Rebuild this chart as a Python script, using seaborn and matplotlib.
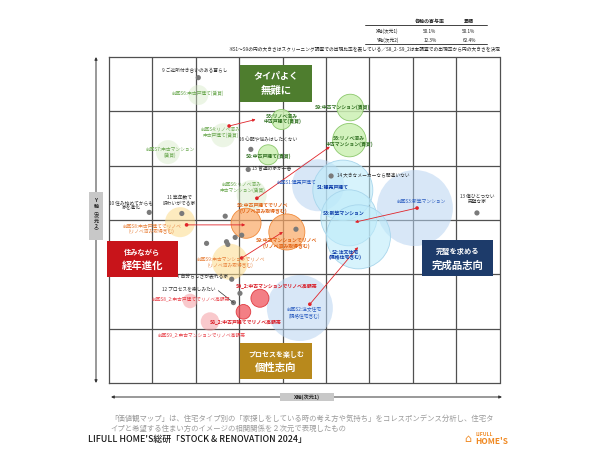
import matplotlib
matplotlib.use("Agg")
import matplotlib.pyplot as plt
import seaborn as sns
import numpy as np
import pandas as pd
from matplotlib.patches import Rectangle

sns.set_theme(style="white")
plt.rcParams['font.family'] = ['Noto Sans CJK JP', 'DejaVu Sans']

# ---------------- data ----------------
# attribute points (grey dots): dimension1, dimension2
attr_x = [-2.44, -1.23, -1.29, 0.62, 3.98, -3.57, -2.82, -1.82, -2.25, -1.79, -1.76,
          -1.59, -1.44, -0.19, -1.67, -1.63, -1.48]
attr_y = [2.62, 1.30, 0.93, 0.81, 0.13, 0.14, 0.12, 0.07, -0.43, -0.40, -0.45,
          -0.32, -0.28, -0.17, -1.09, -1.52, -1.35]

# housing types (circles)
circ_name = ["前回S6", "前回S4", "前回S7", "前回S6b", "S5", "S8g", "S9g", "S6",
             "前回S1", "前回S3", "前回S2", "S1", "S3", "S2",
             "前回S8", "前回S9", "S8", "S9",
             "前回S8_2", "前回S9_2", "S9_2", "S8_2"]
circ_x = [-2.44, -1.87, -3.14, -1.21, -0.52, -0.83, 1.06, 1.04,
          0.32, 2.55, -0.10, 0.89, 1.03, 1.25,
          -2.86, -1.71, -1.34, -0.40,
          -2.63, -2.17, -1.02, -1.40]
circ_y = [2.30, 1.56, 1.25, 0.46, 1.85, 1.20, 2.07, 1.47,
          0.64, 0.22, -1.62, 0.55, 0.04, -0.31,
          -0.04, -0.77, -0.06, -0.22,
          -1.49, -1.87, -1.44, -1.69]
circ_size = [10, 12, 12, 15, 10, 10, 13.3, 16.7,
             26, 38, 33, 30, 28, 32,
             15, 18, 15, 18,
             7.3, 9.3, 9, 7.3]
circ_group = ["green"] * 8 + ["blue"] * 6 + ["orange"] * 4 + ["red"] * 4
circ_prev = [True, True, True, True, False, False, False, False,
             True, True, True, False, False, False,
             True, True, False, False,
             True, True, False, False]

# movement arrows (previous survey -> this survey)
arr_x0 = [-1.73, -1.09, 2.60, 0.13, -2.71, -1.44]
arr_y0 = [1.73, 0.40, 0.22, -1.55, -0.09, -0.70]
arr_x1 = [-1.12, 0.59, 1.17, 1.24, -1.36, -0.49]
arr_y1 = [1.85, 1.35, -0.04, -0.50, -0.09, -0.22]

# labels
lab_text = [
    "9 ご近所付き合いのある暮らし", "前回S6:中古戸建て(賃貸)", "前回S4:リノベ済み\n中古戸建て(賃貸)",
    "前回S7:中古マンション\n(賃貸)", "S5:リノベ済み\n中古戸建て(賃貸)", "16 心配や悩みはしたくない",
    "S8:中古戸建て(賃貸)", "15 普通の家が一番", "S9:中古マンション(賃貸)",
    "S6:リノベ済み\n中古マンション(賃貸)", "前回S6:リノベ済み\n中古マンション(賃貸)",
    "前回S1:建売戸建て", "S1:建売戸建て", "14 大きなメーカーなら間違いない",
    "S3:新築マンション", "前回S3:新築マンション", "S2:注文住宅\n(規格住宅含む)",
    "前回S2:注文住宅\n(規格住宅含む)", "13 傷ひとつない\n完璧な家", "10 住み始めてからも\n家を進化",
    "11 築年数で\n味わいがでる家", "前回S8:中古戸建てでリノベ\n(リノベ済み取得含む)",
    "S8:中古戸建てでリノベ\n(リノベ済み取得含む)", "S9:中古マンションでリノベ\n(リノベ済み取得含む)",
    "前回S9:中古マンションでリノベ\n(リノベ済み取得含む)", "7 自分らしさが表れる家",
    "12 プロセスを楽しみたい", "S9_2:中古マンションでリノベ高額帯", "前回S8_2:中古戸建てでリノベ高額帯",
    "S8_2:中古戸建てでリノベ高額帯", "前回S9_2:中古マンションでリノベ高額帯"]
lab_style = ["a", "gp", "gp", "gp", "gc", "a", "gc", "a", "gc", "gc", "gp",
             "bp", "bc", "a", "bc", "bp", "bc", "bp", "a", "a", "a", "op",
             "oc", "oc", "op", "a", "a", "rc", "rp", "rc", "rp"]

table_rows = ["X軸(次元1)", "Y軸(次元2)"]
contrib = ["50.1%", "12.3%"]
cumul = ["50.1%", "62.4%"]

# ---------------- layout ----------------
lab_pos = [(-2.52, 2.75), (-2.45, 2.34), (-1.92, 1.62), (-3.09, 1.24), (-0.51, 1.86),
           (-1.51, 1.47), (-0.83, 1.18), (-1.20, 0.94), (0.87, 2.07), (1.03, 1.45),
           (-1.43, 0.60), (-0.18, 0.70), (0.66, 0.61), (0.76, 0.81), (0.91, 0.13),
           (2.69, 0.34), (0.94, -0.64), (0.0, -1.71), (3.98, 0.39), (-3.99, 0.27),
           (-2.88, 0.37), (-3.51, -0.16), (-0.95, 0.22), (-0.42, -0.43), (-1.69, -0.78),
           (-2.35, -1.03), (-2.65, -1.27), (-0.63, -1.20), (-2.61, -1.45), (-1.36, -1.87),
           (-2.35, -2.12)]
left_aligned = {5, 7, 13}

styles = {
    "a": dict(color="#333333", fontsize=3.4),
    "gp": dict(color="#6aa84f", fontsize=3.4),
    "gc": dict(color="#2d6e1e", fontsize=3.5, fontweight="bold"),
    "bp": dict(color="#2a5cc0", fontsize=3.4),
    "bc": dict(color="#0a3aa8", fontsize=3.5, fontweight="bold"),
    "op": dict(color="#e8803a", fontsize=3.4),
    "oc": dict(color="#e06010", fontsize=3.5, fontweight="bold"),
    "rp": dict(color="#e84048", fontsize=3.4),
    "rc": dict(color="#d9141e", fontsize=3.5, fontweight="bold"),
}
fills = {
    ("green", True): ((0.84, 0.92, 0.78, 0.45), "none"),
    ("green", False): ((0.80, 0.94, 0.70, 0.85), "#8cc86c"),
    ("blue", True): ((0.72, 0.83, 0.95, 0.55), "none"),
    ("blue", False): ((0.74, 0.92, 0.98, 0.60), "#a8d6ec"),
    ("orange", True): ((0.99, 0.86, 0.55, 0.55), "none"),
    ("orange", False): ((0.98, 0.66, 0.40, 0.70), "#f08a3a"),
    ("red", True): ((0.96, 0.62, 0.64, 0.55), "none"),
    ("red", False): ((0.94, 0.33, 0.36, 0.75), "#e03a40"),
}

W, H = 600, 450
fig = plt.figure(figsize=(6, 4.5), dpi=100)
fig.patch.set_facecolor("white")
L, R, T, B = 108.9, 499.5, 57, 383
ax = fig.add_axes([L / W, 1 - B / H, (R - L) / W, (B - T) / H])
ax.set_xlim(-4.5, 4.5)
ax.set_ylim(-3, 3)
ax.set_xticks(np.arange(-3.5, 4.5, 1))
ax.set_yticks(np.arange(-2, 3, 1))
ax.set_xticklabels([])
ax.set_yticklabels([])
ax.tick_params(length=0)
ax.grid(True, color="#505050", lw=0.9)
ax.set_axisbelow(True)
for s in ax.spines.values():
    s.set_color("#505050")
    s.set_linewidth(0.9)
ax.set_facecolor("white")

df = pd.DataFrame(dict(x=circ_x, y=circ_y, r=circ_size, g=circ_group, p=circ_prev))
px2pt = 72 / 100
for prev in (True, False):
    for g in ["blue", "green", "orange", "red"]:
        sub = df[(df.g == g) & (df.p == prev) & (df.r > 0)]
        if len(sub) == 0:
            continue
        fc, ec = fills[(g, prev)]
        sns.scatterplot(x=sub.x, y=sub.y, s=(2 * sub.r * px2pt) ** 2, color=fc,
                        edgecolor=ec, linewidth=0.6, ax=ax, legend=False, zorder=2)

sns.scatterplot(x=attr_x, y=attr_y, s=14, color="#7a7a7a", edgecolor="none",
                ax=ax, legend=False, zorder=4)

for x0, y0, x1, y1 in zip(arr_x0, arr_y0, arr_x1, arr_y1):
    ax.annotate("", xy=(x1, y1), xytext=(x0, y0),
                arrowprops=dict(arrowstyle="-|>", color="#e0242a", lw=0.6,
                                mutation_scale=4, shrinkA=0, shrinkB=0), zorder=5)
sns.scatterplot(x=arr_x0, y=arr_y0, s=7, color="#e0242a", edgecolor="none",
                ax=ax, legend=False, zorder=6)

# leader line for 12
ax.plot([-1.98, -1.63], [-1.30, -1.52], color="#333333", lw=0.5, zorder=4)

for i, (t, st) in enumerate(zip(lab_text, lab_style)):
    x, y = lab_pos[i]
    ax.text(x, y, t, ha="left" if i in left_aligned else "center", va="center",
            linespacing=1.15, zorder=7, **styles[st])

ax.set_xlabel("")
ax.set_ylabel("")

# ---------------- overlay decorations ----------------
ov = fig.add_axes([0, 0, 1, 1], zorder=5)
ov.set_xlim(0, W)
ov.set_ylim(H, 0)
ov.axis("off")
ov.patch.set_visible(False)

def qbox(x0, x1, y0, y1, color, l1, l2, fs1, fs2):
    ov.add_patch(Rectangle((x0, y0), x1 - x0, y1 - y0, facecolor=color, edgecolor="none"))
    cx = (x0 + x1) / 2
    ov.text(cx, y0 + (y1 - y0) * 0.32, l1, color="white", fontsize=fs1, ha="center",
            va="center", fontweight="bold")
    ov.text(cx, y0 + (y1 - y0) * 0.70, l2, color="white", fontsize=fs2, ha="center",
            va="center", fontweight="bold")

qbox(240, 312, 65, 102, "#4e7d2e", "タイパよく", "無難に", 6.5, 7.5)
qbox(107, 178, 241, 277, "#c8141a", "住みながら", "経年進化", 5.2, 7.5)
qbox(422, 493, 240, 276, "#1d3b6a", "完璧を求める", "完成品志向", 5.2, 7.5)
qbox(240, 312, 343, 379, "#b8891c", "プロセスを楽しむ", "個性志向", 5.0, 7.5)

# axes arrows
ov.annotate("", xy=(96, 57), xytext=(96, 383),
            arrowprops=dict(arrowstyle="<|-|>", color="#333333", lw=0.7, mutation_scale=4,
                            shrinkA=0, shrinkB=0))
ov.add_patch(Rectangle((89, 192), 14, 48, facecolor="#c8c8c8", edgecolor="none", zorder=3))
ov.text(96, 216, "Y\n軸\n︵\n次\n元\n2\n︶", fontsize=3.6, ha="center", va="center",
        linespacing=1.0, fontweight="bold", color="#222222", zorder=4)

ov.annotate("", xy=(502, 397), xytext=(111, 397),
            arrowprops=dict(arrowstyle="<|-|>", color="#333333", lw=0.7, mutation_scale=4,
                            shrinkA=0, shrinkB=0))
ov.add_patch(Rectangle((280, 393), 54, 8, facecolor="#c8c8c8", edgecolor="none", zorder=3))
ov.text(307, 397, "X軸(次元1)", fontsize=3.8, ha="center", va="center",
        fontweight="bold", color="#222222", zorder=4)

# contribution table
ov.text(430, 21.7, "各軸の寄与率", fontsize=3.6, ha="center", va="center", fontweight="bold", color="#222222")
ov.text(469, 21.7, "累積", fontsize=3.6, ha="center", va="center", fontweight="bold", color="#222222")
ov.plot([365, 487], [25, 25], color="#222222", lw=0.6)
for i, (rn, c1, c2) in enumerate(zip(table_rows, contrib, cumul)):
    yy = 31.7 + i * 8.3
    ov.text(398, yy, rn, fontsize=3.4, ha="right", va="center", color="#222222")
    ov.text(430, yy, c1, fontsize=3.4, ha="center", va="center", color="#222222")
    ov.text(469, yy, c2, fontsize=3.4, ha="center", va="center", color="#222222")
ov.plot([365, 487], [44.3, 44.3], color="#222222", lw=0.6)
ov.text(500, 49, "※S1～S9の円の大きさはスクリーニング調査での出現比率を表している／S8_2･S9_2は本調査での出現率から円の大きさを決定",
        fontsize=3.4, ha="right", va="center", color="#222222")

# description
ov.text(110, 419, "「価値観マップ」は、住宅タイプ別の「家探しをしている時の考え方や気持ち」をコレスポンデンス分析し、住宅タ",
        fontsize=5.3, ha="left", va="center", color="#9a9a9a")
ov.text(110, 428.5, "イプと希望する住まい方のイメージの相関関係を２次元で表現したもの",
        fontsize=5.3, ha="left", va="center", color="#9a9a9a")

ov.text(88, 439, "LIFULL HOME'S総研「STOCK & RENOVATION 2024」", fontsize=6.4, ha="left",
        va="center", color="#1a1a1a", fontweight="medium")
ov.text(476, 434, "LIFULL", fontsize=3.6, ha="left", va="center", color="#f08a24", fontweight="bold")
ov.text(475, 441, "HOME'S", fontsize=6.0, ha="left", va="center", color="#f08a24", fontweight="bold")
ov.text(468, 438.5, "⌂", fontsize=8, ha="center", va="center", color="#f08a24",
        family=["DejaVu Sans"])

fig.savefig("out.png", dpi=100, facecolor="white")
